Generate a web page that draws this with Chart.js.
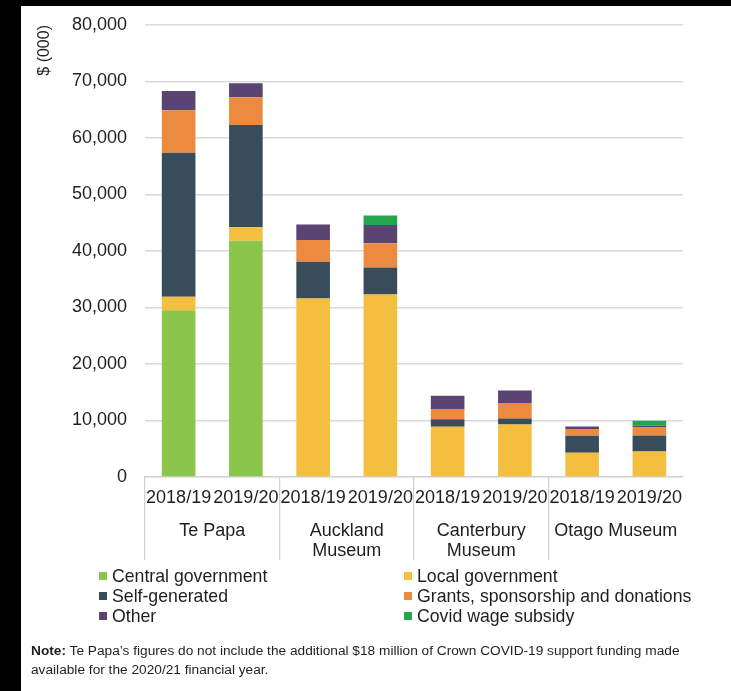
<!DOCTYPE html>
<html><head><meta charset="utf-8">
<script src="https://cdn.jsdelivr.net/npm/chart.js@4"></script>
<style>
html,body{margin:0;padding:0;background:#fff;}
#wrap{position:relative;width:731px;height:691px;overflow:hidden;font-family:"Liberation Sans",Arial,sans-serif;color:#1f1f1f;background:#fff;}
canvas{position:absolute;left:0;top:0;}
.edge-top{position:absolute;left:0;top:0;width:731px;height:6px;background:#000;}
.edge-left{position:absolute;left:0;top:0;width:21px;height:691px;background:#000;}
#legend{position:absolute;left:99px;top:566px;display:grid;grid-template-columns:305px 310px;font-size:17.7px;line-height:20px;}
.item{display:flex;align-items:center;white-space:nowrap;}
.sw{width:8px;height:8px;margin-right:5px;flex:none;}
#note{position:absolute;left:31px;top:641px;font-size:13.7px;line-height:19px;white-space:nowrap;}
</style></head>
<body>
<div id="wrap">
  <canvas id="c" width="731" height="691"></canvas>
  <div id="legend"></div>
  <div id="note"><b>Note:</b> Te Papa’s figures do not include the additional $18 million of Crown COVID-19 support funding made<br>available for the 2020/21 financial year.</div>
  <div class="edge-top"></div>
  <div class="edge-left"></div>
</div>
<script>
// ---- data ----
const yearLabels = ['2018/19','2019/20','2018/19','2019/20','2018/19','2019/20','2018/19','2019/20'];
const museums = ['Te Papa', ['Auckland','Museum'], ['Canterbury','Museum'], 'Otago Museum'];
const seriesNames = ['Central government','Local government','Self-generated','Grants, sponsorship and donations','Other','Covid wage subsidy'];
const seriesColors = ['#8cc54c','#f4bf3f','#384d59','#ec8b3f','#5a4472','#24a64c'];
const centralGov = [29500, 41800, 0, 0, 0, 0, 0, 0];
const localGov   = [2400, 2400, 31600, 32300, 8900, 9300, 4300, 4500];
const selfGen    = [25500, 18100, 6500, 4800, 1300, 1050, 3000, 2850];
const grants     = [7500, 4900, 3850, 4250, 1850, 2750, 1200, 1500];
const other      = [3400, 2500, 2750, 3250, 2350, 2200, 450, 250];
const covid      = [0, 0, 0, 1700, 0, 0, 0, 850];
const yTicks = [0,10000,20000,30000,40000,50000,60000,70000,80000];

const seriesData = [centralGov, localGov, selfGen, grants, other, covid];

Chart.defaults.font.family = '"Liberation Sans", Arial, sans-serif';
Chart.defaults.color = '#1f1f1f';

const gridGray = '#d9d9d9';
const sepColor = ctx => (ctx.index % 2 === 0 ? '#d2d2d2' : 'rgba(0,0,0,0)');

const chart = new Chart(document.getElementById('c'), {
  type: 'bar',
  data: {
    labels: yearLabels,
    datasets: seriesNames.map((n, i) => ({
      label: n,
      data: seriesData[i],
      backgroundColor: seriesColors[i],
      borderWidth: 0,
      barPercentage: 0.5,
      categoryPercentage: 1.0
    }))
  },
  options: {
    responsive: false,
    animation: false,
    layout: { padding: { left: 21, right: 48, top: 25, bottom: 126 } },
    plugins: { legend: { display: false }, tooltip: { enabled: false } },
    scales: {
      x: {
        stacked: true,
        weight: 0,
        offset: true,
        grid: { display: true, offset: true, drawOnChartArea: false, drawTicks: true, tickLength: 83,
                color: sepColor, tickColor: sepColor, lineWidth: 1.2 },
        border: { display: true, color: '#d2d2d2', width: 1.2 },
        ticks: { font: { size: 18 }, padding: -73, maxRotation: 0, autoSkip: false, color: '#1f1f1f' },
        afterFit: s => { s.height = 35; }
      },
      x2: {
        type: 'category',
        position: 'bottom',
        weight: 1,
        labels: museums,
        offset: true,
        grid: { display: false },
        border: { display: false },
        ticks: { font: { size: 18, lineHeight: 1.1 }, padding: 1, maxRotation: 0, autoSkip: false, color: '#1f1f1f' },
        afterFit: s => { s.height = 53; }
      },
      y: {
        stacked: true,
        min: 0, max: 80000,
        afterBuildTicks: s => { s.ticks = yTicks.map(v => ({ value: v })); },
        grid: { color: gridGray, lineWidth: 1.6, drawTicks: false },
        border: { display: false },
        ticks: { font: { size: 18 }, padding: 18, color: '#1f1f1f',
                 callback: v => Number(v).toLocaleString('en-US') },
        title: { display: true, text: '$ (000)', align: 'end', font: { size: 16 }, padding: { top: 14, bottom: 0 }, color: '#1f1f1f' },
        afterFit: s => { s.width = 124; s.paddingTop = 0; s.paddingBottom = 0; }
      }
    }
  }
});

// HTML legend in two columns, built from the chart's datasets
const lg = document.getElementById('legend');
chart.data.datasets.forEach(ds => {
  const it = document.createElement('div');
  it.className = 'item';
  const sw = document.createElement('span');
  sw.className = 'sw';
  sw.style.background = ds.backgroundColor;
  const tx = document.createElement('span');
  tx.textContent = ds.label;
  it.appendChild(sw); it.appendChild(tx);
  lg.appendChild(it);
});
</script>
</body></html>
